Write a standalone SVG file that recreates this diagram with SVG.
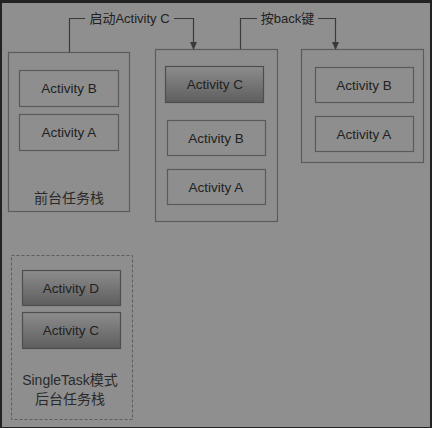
<svg xmlns="http://www.w3.org/2000/svg" width="432" height="428" viewBox="0 0 432 428">
<defs>
<linearGradient id="dark" x1="0" y1="0" x2="0" y2="1">
<stop offset="0" stop-color="#8c8c8c"/>
<stop offset="1" stop-color="#5e5e5e"/>
</linearGradient>
<marker id="arr" markerWidth="8" markerHeight="8" refX="7" refY="4" orient="auto" markerUnits="userSpaceOnUse">
<path d="M0,0.5 L8,4 L0,7.5 Z" fill="#3a3a3a"/>
</marker>
</defs>
<style>
.stack{fill:#8e8e8e;stroke:#5c5c5c;stroke-width:1.2}
.dash{fill:#8e8e8e;stroke:#5c5c5c;stroke-width:1;stroke-dasharray:3,2}
.box{fill:#8e8e8e;stroke:#5a5a5a;stroke-width:1.2}
.dbox{fill:url(#dark);stroke:#4e4e4e;stroke-width:1.2}
.t{font-family:"Liberation Sans","Noto Sans CJK SC",sans-serif;font-size:13.5px;fill:#222;text-anchor:middle;dominant-baseline:central}
.cap{font-family:"Liberation Sans","Noto Sans CJK SC",sans-serif;font-size:14px;fill:#2a2a2a;text-anchor:middle;dominant-baseline:central}
.lbl{font-family:"Liberation Sans","Noto Sans CJK SC",sans-serif;font-size:13px;fill:#222;text-anchor:middle;dominant-baseline:central}
.conn{fill:none;stroke:#3a3a3a;stroke-width:1.2}
</style>
<rect x="0" y="0" width="432" height="428" fill="#222"/>
<rect x="2" y="3" width="428" height="424" fill="#8f8f8f"/>

<g id="stack-front">
<rect class="stack" x="8.5" y="52.5" width="121" height="159"/>
<text class="cap" x="69" y="198">前台任务栈</text>
</g>
<g id="front-b"><rect class="box" x="19.5" y="70.5" width="99" height="36"/><text class="t" x="69" y="88">Activity B</text></g>
<g id="front-a"><rect class="box" x="19.5" y="114.5" width="99" height="36"/><text class="t" x="69" y="132">Activity A</text></g>

<g id="stack-mid"><rect class="stack" x="155.5" y="49.5" width="122" height="172"/></g>
<g id="mid-c"><rect class="dbox" x="165.5" y="66.5" width="98" height="36"/><text class="t" x="215" y="84">Activity C</text></g>
<g id="mid-b"><rect class="box" x="167.5" y="120.5" width="98" height="35"/><text class="t" x="216" y="138">Activity B</text></g>
<g id="mid-a"><rect class="box" x="167.5" y="169.5" width="98" height="35"/><text class="t" x="216" y="187">Activity A</text></g>

<g id="stack-right"><rect class="stack" x="301.5" y="49.5" width="122" height="113"/></g>
<g id="right-b"><rect class="box" x="315.5" y="67.5" width="98" height="35"/><text class="t" x="364" y="85">Activity B</text></g>
<g id="right-a"><rect class="box" x="315.5" y="116.5" width="98" height="35"/><text class="t" x="364" y="134">Activity A</text></g>

<g id="stack-single">
<rect class="dash" x="11.5" y="255.5" width="121" height="164"/>
<text class="cap" x="70" y="380">SingleTask模式</text>
<text class="cap" x="70" y="399">后台任务栈</text>
</g>
<g id="single-d"><rect class="dbox" x="22.5" y="270.5" width="98" height="35"/><text class="t" x="71" y="288">Activity D</text></g>
<g id="single-c"><rect class="dbox" x="22.5" y="312.5" width="98" height="36"/><text class="t" x="71" y="330">Activity C</text></g>

<g id="connectors">
<path class="conn" d="M69.5,52 L69.5,18.5 L85,18.5"/>
<path class="conn" d="M174,18.5 L193.5,18.5 L193.5,49" marker-end="url(#arr)"/>
<text class="lbl" x="129.5" y="18">启动Activity C</text>
<path class="conn" d="M240.5,49 L240.5,18.5 L257,18.5"/>
<path class="conn" d="M318,18.5 L335.5,18.5 L335.5,49" marker-end="url(#arr)"/>
<text class="lbl" x="287.5" y="18">按back键</text>
</g>
</svg>
